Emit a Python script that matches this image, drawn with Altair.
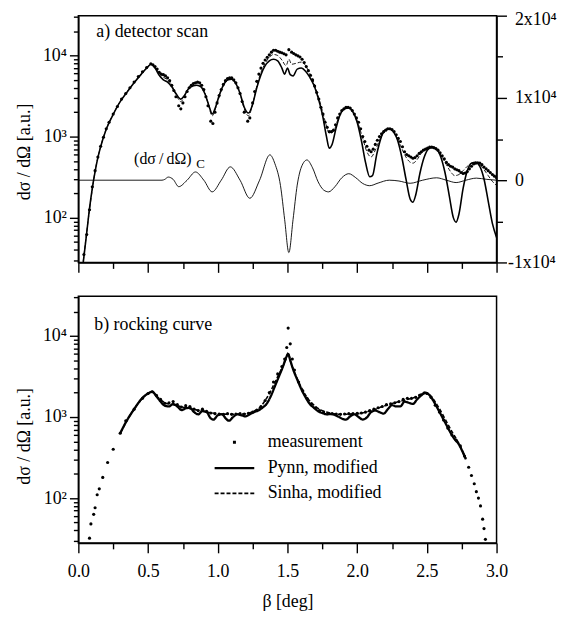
import altair as alt
import pandas as pd

FONT = "'Liberation Serif', 'Times New Roman', Times, 'DejaVu Serif', serif"

# ---------------- a) detector scan ----------------
det_meas_beta = [0.04, 0.06, 0.08, 0.10, 0.12, 0.14, 0.16, 0.18, 0.20, 0.22, 0.25, 0.28, 0.31, 0.34, 0.37,
                 0.40, 0.43, 0.46, 0.49, 0.52, 0.55, 0.58, 0.61, 0.64, 0.67, 0.70, 0.72, 0.735, 0.75, 0.78,
                 0.81, 0.84, 0.87, 0.90, 0.93, 0.95, 0.965, 0.98, 1.01, 1.04, 1.07, 1.10, 1.13, 1.16, 1.19,
                 1.215, 1.23, 1.25, 1.28, 1.31, 1.34, 1.37, 1.40, 1.43, 1.46, 1.49, 1.51, 1.53, 1.56, 1.59,
                 1.62, 1.65, 1.68, 1.71, 1.74, 1.77, 1.80, 1.83, 1.86, 1.89, 1.92, 1.95, 1.98, 2.01, 2.04,
                 2.07, 2.10, 2.13, 2.16, 2.19, 2.22, 2.25, 2.28, 2.31, 2.34, 2.37, 2.40, 2.43, 2.46, 2.49,
                 2.52, 2.55, 2.58, 2.61, 2.64, 2.67, 2.70, 2.73, 2.76, 2.79, 2.82, 2.85, 2.88, 2.91, 2.94,
                 2.97, 3.00,
                 0.535, 0.565, 0.595, 0.625, 0.655, 0.685, 0.765, 0.795, 0.825, 0.855, 0.885, 0.915, 0.995,
                 1.025, 1.055, 1.085, 1.115, 1.145, 1.175, 1.265, 1.295, 1.325, 1.355, 1.385, 1.415, 1.445,
                 1.475, 1.545, 1.575, 1.605, 1.635, 1.665, 1.695, 1.725, 1.755, 1.785, 1.815, 1.845, 1.875,
                 1.905, 1.935, 1.965, 1.995, 2.025, 2.055, 2.085, 2.115, 2.145, 2.175, 2.205, 2.235, 2.265,
                 2.295, 2.325, 2.355, 2.385, 2.415, 2.445, 2.475, 2.505, 2.535, 2.565, 2.595, 2.625, 2.655,
                 2.685, 2.715, 2.745, 2.775, 2.805, 2.835, 2.865, 2.895, 2.925, 2.955, 2.985]
det_meas_val = [35, 62, 125, 240, 380, 560, 760, 980, 1250, 1500, 1900, 2350, 2900, 3400, 4000,
                4700, 5500, 6300, 7100, 7900, 7300, 6200, 5800, 5300, 4300, 3100, 2400, 2200, 2600, 3600,
                4300, 4600, 4600, 3800, 2400, 1550, 1450, 2000, 3200, 4400, 5200, 5300, 4600, 3400, 2000,
                1550, 1700, 2600, 4800, 7000, 8800, 10200, 11600, 11300, 10800, 10200, 11800, 11000, 10200, 9600,
                8200, 6500, 5000, 3500, 2300, 1500, 1150, 1200, 1700, 2100, 2300, 2250, 1900, 1500, 1000,
                760, 650, 800, 1000, 1150, 1250, 1220, 1050, 870, 650, 580, 540, 580, 650, 700,
                740, 730, 680, 580, 480, 430, 400, 380, 350, 370, 430, 470, 470, 420, 380,
                340, 310,
                7700, 6800, 5900, 5600, 4900, 3700, 3100, 4000, 4500, 4700, 4300, 3100, 2600,
                3800, 4900, 5300, 5000, 4000, 2700, 3600, 5900, 8000, 9500, 11000, 11600, 11000,
                10500, 10600, 9900, 9000, 7300, 5700, 4200, 2900, 1900, 1300, 1150, 1400, 1900,
                2200, 2300, 2100, 1700, 1250, 870, 680, 700, 900, 1080, 1200, 1250, 1150,
                950, 750, 600, 560, 550, 620, 680, 720, 740, 710, 630, 530, 450,
                420, 390, 360, 355, 400, 460, 475, 450, 400, 360, 325]

det_pynn_beta = [0.035, 0.06, 0.08, 0.10, 0.12, 0.14, 0.16, 0.20, 0.25, 0.30, 0.35, 0.40, 0.45, 0.50, 0.52,
                 0.55, 0.58, 0.61, 0.64, 0.67, 0.70, 0.735, 0.76, 0.79, 0.82, 0.85, 0.88, 0.91, 0.94, 0.96,
                 0.98, 1.01, 1.04, 1.07, 1.10, 1.13, 1.16, 1.19, 1.22, 1.25, 1.28, 1.31, 1.34, 1.37, 1.40,
                 1.43, 1.46, 1.48, 1.50, 1.52, 1.54, 1.57, 1.60, 1.63, 1.66, 1.69, 1.72, 1.75, 1.78, 1.80,
                 1.82, 1.85, 1.88, 1.91, 1.94, 1.97, 2.00, 2.03, 2.06, 2.09, 2.11, 2.14, 2.17, 2.20, 2.23,
                 2.26, 2.29, 2.32, 2.35, 2.38, 2.40, 2.42, 2.45, 2.48, 2.51, 2.54, 2.57, 2.60, 2.63, 2.66,
                 2.69, 2.71, 2.73, 2.76, 2.79, 2.82, 2.85, 2.88, 2.91, 2.94, 2.97, 3.00]
det_pynn_val = [28, 65, 130, 230, 370, 550, 750, 1230, 1880, 2700, 3550, 4600, 5850, 7300, 7800,
                7000, 5700, 5000, 4700, 4100, 3400, 2900, 3200, 3900, 4200, 4300, 4100, 3300, 2300, 1900,
                2200, 3200, 4300, 5000, 5100, 4500, 3400, 2300, 1950, 2500, 4000, 5800, 7500, 8600, 9000,
                8600, 7000, 5900, 7000, 5800, 5600, 6800, 7000, 6400, 5400, 4300, 3000, 1900, 1000, 720,
                800, 1300, 1900, 2200, 2250, 2000, 1500, 900, 480, 320, 330, 600, 950, 1200, 1250,
                1150, 900, 560, 300, 170, 155, 190, 350, 550, 700, 740, 700, 560, 360, 190,
                100, 88, 110, 230, 380, 470, 480, 430, 300, 160, 85, 57]

det_sinha_beta = [0.035, 0.08, 0.12, 0.16, 0.20, 0.25, 0.30, 0.35, 0.40, 0.45, 0.50, 0.52, 0.55, 0.58, 0.61,
                  0.64, 0.67, 0.70, 0.735, 0.77, 0.80, 0.84, 0.87, 0.90, 0.93, 0.96, 0.99, 1.02, 1.06, 1.10,
                  1.13, 1.16, 1.19, 1.22, 1.25, 1.28, 1.31, 1.34, 1.37, 1.40, 1.43, 1.46, 1.49, 1.51, 1.53,
                  1.56, 1.60, 1.63, 1.66, 1.69, 1.72, 1.75, 1.78, 1.80, 1.83, 1.86, 1.89, 1.92, 1.95, 1.98,
                  2.01, 2.04, 2.07, 2.10, 2.13, 2.16, 2.19, 2.22, 2.25, 2.28, 2.31, 2.34, 2.37, 2.40, 2.43,
                  2.46, 2.49, 2.52, 2.55, 2.58, 2.61, 2.64, 2.67, 2.70, 2.73, 2.76, 2.79, 2.82, 2.85, 2.88,
                  2.91, 2.94, 2.97, 3.00]
det_sinha_val = [29, 125, 375, 755, 1240, 1900, 2700, 3600, 4650, 5900, 7300, 7800, 7100, 6000, 5400,
                 5000, 4300, 3300, 2700, 3400, 4200, 4600, 4500, 3800, 2600, 1800, 2400, 3500, 4800, 5200,
                 4600, 3400, 2200, 1800, 2500, 4200, 6200, 8000, 9500, 10300, 10000, 8800, 7500, 9000, 7800,
                 8000, 8300, 7500, 6000, 4600, 3200, 2100, 1350, 1100, 1150, 1600, 2100, 2300, 2250, 1900,
                 1400, 950, 650, 560, 680, 900, 1120, 1250, 1200, 1000, 780, 600, 500, 470, 520,
                 620, 700, 740, 730, 660, 560, 450, 370, 330, 340, 380, 430, 470, 480, 450,
                 390, 330, 280, 250]

# contrast term (dsigma/dOmega)_C, right axis
det_c_beta = [0.0, 0.60, 0.62, 0.645, 0.68, 0.72, 0.78, 0.84, 0.90, 0.96, 1.025, 1.09, 1.16, 1.23, 1.30,
              1.374, 1.41, 1.45, 1.48, 1.51, 1.54, 1.57, 1.60, 1.64, 1.68, 1.72, 1.76, 1.795, 1.84, 1.89,
              1.94, 1.99, 2.04, 2.09, 2.15, 2.23, 2.30, 2.38, 2.47, 2.57, 2.64, 2.71, 2.78, 2.855, 2.93,
              3.00]
det_c_val = [0, 0, 100, 380, 100, -790, 0, 1000, 0, -1420, 0, 1620, 0, -2200, 0,
             3080, 2000, -660, -4800, -8800, -4800, -600, 1600, 2460, 1500, -200, -1200, -1420, -800, 300,
             790, 300, -400, -670, -350, 0, -100, -375, 0, 290, 0, -290, 0, 250, 100,
             0]

# ---------------- b) rocking curve ----------------
rock_meas_beta = [0.08, 0.09, 0.11, 0.12, 0.135, 0.15, 0.175, 0.21, 0.25, 0.30, 0.34, 0.40, 0.46, 0.50, 0.53,
                  0.56, 0.59, 0.62, 0.65, 0.68, 0.71, 0.74, 0.77, 0.80, 0.83, 0.86, 0.89, 0.92, 0.95, 0.98,
                  1.01, 1.04, 1.07, 1.10, 1.13, 1.16, 1.19, 1.22, 1.25, 1.28, 1.31, 1.34, 1.37, 1.40, 1.43,
                  1.46, 1.48, 1.495, 1.505, 1.52, 1.535, 1.55, 1.58, 1.61, 1.64, 1.67, 1.70, 1.73, 1.76, 1.79,
                  1.82, 1.85, 1.88, 1.91, 1.94, 1.97, 2.00, 2.03, 2.06, 2.09, 2.12, 2.15, 2.18, 2.21, 2.24,
                  2.27, 2.30, 2.33, 2.36, 2.39, 2.42, 2.45, 2.48, 2.50, 2.53, 2.56, 2.59, 2.62, 2.65, 2.68,
                  2.71, 2.74, 2.77, 2.80, 2.82, 2.84, 2.855, 2.87, 2.885, 2.90, 2.91, 2.92]
rock_meas_val = [32, 48, 63, 76, 110, 130, 180, 275, 400, 630, 900, 1250, 1700, 1950, 2050,
                 1850, 1650, 1480, 1500, 1550, 1420, 1330, 1380, 1350, 1250, 1200, 1250, 1180, 1120, 1100,
                 1090, 1080, 1100, 1080, 1090, 1100, 1090, 1110, 1150, 1220, 1350, 1600, 2000, 2700, 3400,
                 4200, 5200, 7200, 12500, 8000, 5200, 3800, 2700, 2100, 1700, 1450, 1300, 1200, 1150, 1100,
                 1100, 1090, 1080, 1090, 1100, 1100, 1110, 1120, 1150, 1200, 1250, 1300, 1350, 1420, 1450,
                 1500, 1550, 1650, 1700, 1700, 1750, 1850, 1980, 1950, 1750, 1400, 1150, 920, 730, 600,
                 520, 440, 330, 240, 190, 150, 120, 100, 80, 55, 42, 31]

rock_pynn_beta = [0.30, 0.35, 0.40, 0.45, 0.50, 0.53, 0.56, 0.59, 0.62, 0.65, 0.68, 0.71, 0.74, 0.77, 0.80,
                  0.83, 0.86, 0.89, 0.92, 0.95, 0.97, 1.00, 1.03, 1.06, 1.08, 1.11, 1.14, 1.17, 1.20, 1.23,
                  1.26, 1.29, 1.32, 1.35, 1.38, 1.41, 1.44, 1.47, 1.49, 1.505, 1.52, 1.54, 1.57, 1.60, 1.63,
                  1.66, 1.69, 1.72, 1.75, 1.78, 1.81, 1.84, 1.87, 1.90, 1.92, 1.95, 1.98, 2.01, 2.04, 2.07,
                  2.10, 2.13, 2.16, 2.19, 2.22, 2.25, 2.28, 2.31, 2.34, 2.37, 2.40, 2.43, 2.46, 2.49, 2.52,
                  2.55, 2.58, 2.61, 2.64, 2.67, 2.70, 2.73, 2.76, 2.78]
rock_pynn_val = [630, 920, 1250, 1650, 1950, 2050, 1800, 1550, 1380, 1350, 1450, 1350, 1220, 1280, 1300,
                 1150, 1080, 1180, 1150, 960, 930, 1050, 1080, 950, 900, 1000, 1080, 1050, 1020, 1080,
                 1150, 1200, 1300, 1450, 1800, 2400, 3200, 4300, 5400, 6000, 5000, 3900, 2900, 2200, 1750,
                 1450, 1300, 1180, 1120, 1080, 1090, 1060, 1000, 940, 930, 1020, 1080, 1000, 930, 990,
                 1150, 1200, 1150, 1100, 1250, 1400, 1350, 1350, 1550, 1500, 1450, 1650, 1850, 2000, 1850,
                 1550, 1250, 1000, 800, 640, 530, 460, 360, 300]

rock_sinha_beta = [0.30, 0.40, 0.50, 0.53, 0.57, 0.62, 0.68, 0.75, 0.82, 0.90, 1.00, 1.10, 1.20, 1.26, 1.30,
                   1.34, 1.38, 1.42, 1.46, 1.49, 1.505, 1.52, 1.55, 1.59, 1.64, 1.70, 1.78, 1.88, 2.00, 2.10,
                   2.20, 2.30, 2.40, 2.49, 2.53, 2.58, 2.63, 2.68, 2.73, 2.78]
rock_sinha_val = [630, 1250, 1950, 2050, 1750, 1500, 1420, 1320, 1250, 1170, 1100, 1080, 1100, 1180, 1300,
                  1600, 2100, 2900, 4000, 5200, 6200, 5000, 3600, 2500, 1750, 1350, 1150, 1080, 1100, 1200,
                  1380, 1550, 1720, 1980, 1800, 1350, 950, 660, 470, 310]

series_names = ["measurement", "Pynn, modified", "Sinha, modified"]

x_ticks = [0.0, 0.25, 0.5, 0.75, 1.0, 1.25, 1.5, 1.75, 2.0, 2.25, 2.5, 2.75, 3.0]
y_log_ticks = [30, 40, 50, 60, 70, 80, 90, 100, 200, 300, 400, 500, 600, 700, 800, 900,
               1000, 2000, 3000, 4000, 5000, 6000, 7000, 8000, 9000, 10000, 20000, 30000]
y_c_ticks = [-10000, -5000, 0, 5000, 10000, 15000, 20000]

# ---------------- data frames ----------------
df_det_meas = pd.DataFrame({"beta": det_meas_beta, "val": det_meas_val})
df_det_pynn = pd.DataFrame({"beta": det_pynn_beta, "val": det_pynn_val})
df_det_sinha = pd.DataFrame({"beta": det_sinha_beta, "val": det_sinha_val})
df_det_c = pd.DataFrame({"beta": det_c_beta, "c": det_c_val})

df_rock_meas = pd.DataFrame({"beta": rock_meas_beta, "val": rock_meas_val})
df_rock_lines = pd.concat([
    pd.DataFrame({"beta": rock_pynn_beta, "val": rock_pynn_val, "series": series_names[1]}),
    pd.DataFrame({"beta": rock_sinha_beta, "val": rock_sinha_val, "series": series_names[2]}),
])

# ---------------- axes / scales ----------------
major_x = "abs(datum.value * 2 - round(datum.value * 2)) < 0.001"
x_scale = alt.Scale(domain=[0, 3], nice=False, zero=False)
x_tick_size = {"condition": {"test": major_x, "value": 10}, "value": 6}

x_top = alt.X("beta:Q", scale=x_scale,
              axis=alt.Axis(values=x_ticks, labels=False, title=None, grid=False,
                            tickSize=x_tick_size))
x_bot = alt.X("beta:Q", scale=x_scale,
              axis=alt.Axis(values=x_ticks, title="β [deg]", grid=False, labelFlush=False,
                            labelOverlap=False, labelPadding=10, titlePadding=12,
                            labelExpr=f"{major_x} ? format(datum.value, '.1f') : ''",
                            tickSize=x_tick_size))

major_y = "datum.value == 100 || datum.value == 1000 || datum.value == 10000"
y_label = ("datum.value == 100 ? '10²' : datum.value == 1000 ? '10³' : "
           "datum.value == 10000 ? '10⁴' : ''")
y_scale = alt.Scale(type="log", domain=[28, 31000], nice=False)


def y_axis(title_y):
    return alt.Axis(values=y_log_ticks, labelExpr=y_label, title="dσ / dΩ [a.u.]", grid=False,
                    labelOverlap=False, labelFlush=False, labelPadding=3, titlePadding=9,
                    titleY=title_y,
                    tickSize={"condition": {"test": major_y, "value": 9}, "value": 5})


y_log = alt.Y("val:Q", scale=y_scale, axis=y_axis(137))

c_label = ("datum.value == 20000 ? '2x10⁴' : datum.value == 10000 ? '1x10⁴' : "
           "datum.value == 0 ? '0' : datum.value == -10000 ? '-1x10⁴' : ''")
y_c = alt.Y("c:Q", scale=alt.Scale(domain=[-10000, 20000], nice=False, zero=False),
            axis=alt.Axis(orient="right", values=y_c_ticks, labelExpr=c_label, title=None, grid=False,
                          labelOverlap=False, labelFlush=False,
                          labelOffset={"condition": {"test": "datum.value == 20000", "value": 4},
                                       "value": 0},
                          labelPadding={"condition": {"test": "datum.value < 0", "value": 1},
                                        "value": 8},
                          tickSize={"condition": {"test": "datum.value % 10000 == 0", "value": 10},
                                    "value": 6}))

W, H = 422, 249

# ---------------- panel a ----------------
a_meas = alt.Chart(df_det_meas).mark_circle(size=10, color="black", opacity=1, clip=True).encode(x=x_top, y=y_log)
a_pynn = alt.Chart(df_det_pynn).mark_line(color="black", strokeWidth=1.6, interpolate="monotone",
                                          clip=True).encode(x=x_top, y=y_log)
a_sinha = alt.Chart(df_det_sinha).mark_line(color="black", strokeWidth=0.9, strokeDash=[4, 2],
                                            interpolate="monotone", clip=True).encode(x=x_top, y=y_log)

ann_a = pd.DataFrame({"beta": [0.129], "val": [17000], "label": ["a) detector scan"]})
ann_c = pd.DataFrame({"beta": [0.40], "val": [457], "label": ["(dσ\u2009/\u2009dΩ)"]})
ann_sub = pd.DataFrame({"beta": [0.845], "val": [405], "label": ["C"]})


def label_layer(df, size, xe, ye):
    return alt.Chart(df).mark_text(align="left", baseline="alphabetic", font=FONT, fontSize=size,
                                   color="black").encode(x=xe, y=ye, text="label:N")


a_text = label_layer(ann_a, 18, x_top, y_log)
a_ctext = label_layer(ann_c, 16, x_top, y_log)
a_sub = label_layer(ann_sub, 13, x_top, y_log)

a_c = alt.Chart(df_det_c).mark_line(color="black", strokeWidth=0.9, interpolate="monotone").encode(x=x_top, y=y_c)

panel_a = alt.layer(
    alt.layer(a_meas, a_pynn, a_sinha, a_text, a_ctext, a_sub),
    a_c,
).resolve_scale(y="independent").properties(width=W, height=H)

# ---------------- panel b ----------------
y_log_b = alt.Y("val:Q", scale=y_scale, axis=y_axis(141))
b_meas = alt.Chart(df_rock_meas).mark_circle(size=10, color="black", opacity=1, clip=True).encode(x=x_bot, y=y_log_b)

legend = alt.Legend(title=None, orient="none", legendX=146, legendY=419, padding=0,
                    symbolType="M-2,0H2", symbolSize=400, symbolStrokeColor="black",
                    labelFont=FONT, labelFontSize=18, labelColor="black", labelOffset=22,
                    rowPadding=5)
b_lines = alt.Chart(df_rock_lines).mark_line(color="black", interpolate="monotone", clip=True).encode(
    x=x_bot, y=y_log_b,
    strokeDash=alt.StrokeDash("series:N",
                              scale=alt.Scale(domain=series_names,
                                              range=[[0, 18.5, 3, 100], [1, 0], [4, 2]]),
                              legend=legend),
    strokeWidth=alt.StrokeWidth("series:N",
                                scale=alt.Scale(domain=series_names, range=[3, 1.6, 0.9]),
                                legend=legend),
)
ann_b = pd.DataFrame({"beta": [0.114], "val": [11800], "label": ["b) rocking curve"]})
b_text = label_layer(ann_b, 18, x_bot, y_log_b)

panel_b = alt.layer(b_meas, b_lines, b_text).properties(width=W, height=H)

chart = alt.vconcat(panel_a, panel_b, spacing=13).properties(
    padding={"left": 6, "top": -4, "right": 0, "bottom": 0}
).configure_axis(
    domainColor="black", domainWidth=1.5, tickColor="black", tickWidth=1.4,
    labelFont=FONT, labelFontSize=18, labelColor="black",
    titleFont=FONT, titleFontSize=18, titleColor="black", titleFontWeight="normal",
).configure_view(stroke="black", strokeWidth=1.5).configure_legend(
    labelFont=FONT, labelFontSize=18
)

chart.save("out.html", embed_options={"renderer": "svg", "actions": False})
